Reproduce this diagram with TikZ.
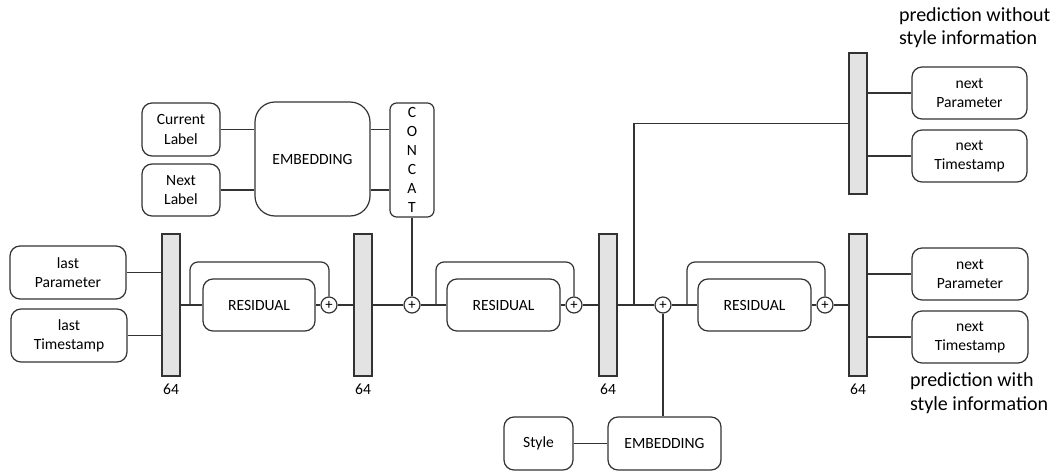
\documentclass[tikz,border=0pt]{standalone}
\usepackage{fontspec}
\setmainfont{Carlito}
\begin{document}
\begin{tikzpicture}[x=0.75pt,y=-0.75pt,
  line width=0.9pt, draw=black!80,
  box/.style={draw=black!80, line width=0.9pt, rounded corners=7.5pt, inner sep=0pt, align=center, font=\fontsize{11.7}{14.3}\selectfont},
  bigbox/.style={box, rounded corners=15pt},
  sz/.style 2 args={minimum width=#1, minimum height=#2},
  bar/.style={draw=black!80, line width=0.9pt, fill=black!11, inner sep=0pt, minimum width=13.5pt},
  plus/.style={draw=black!80, line width=0.9pt, circle, minimum size=12pt, inner sep=0pt, font=\fontsize{11}{11}\selectfont},
  lbl/.style={font=\fontsize{11.7}{13}\selectfont},
  pred/.style={align=left, anchor=west, font=\fontsize{15}{17.6}\selectfont}]
\useasboundingbox (0,0) rectangle (1051,471);

% input boxes
\node[box, sz={87pt}{39.75pt}] (lp) at (68,272.5) {last\\Parameter};
\node[box, sz={87pt}{39.75pt}] (lt) at (69,335.5) {last\\Timestamp};
\node[box, sz={58.5pt}{39.75pt}] (cl) at (181,129.5) {Current\\Label};
\node[box, sz={58.5pt}{39pt}] (nl) at (181,190) {Next\\Label};
\node[bigbox, sz={86.25pt}{85.5pt}] (emb1) at (312.5,159) {EMBEDDING};
\node[box, rounded corners=5pt, sz={33pt}{85.5pt}, font=\fontsize{11.7}{14.2}\selectfont] (cc) at (412,160) {C\\O\\N\\C\\A\\T};

% bars
\node[bar, minimum height=106.5pt] (b1) at (171,305) {};
\node[bar, minimum height=106.5pt] (b2) at (363,305) {};
\node[bar, minimum height=106.5pt] (b3) at (608,305) {};
\node[bar, minimum height=106.5pt] (b4) at (858,305) {};
\node[bar, minimum height=105.75pt] (b5) at (858,123.5) {};
\node[lbl] (l1) at (171,389) {64};
\node[lbl] (l2) at (363,389) {64};
\node[lbl] (l3) at (608,389) {64};
\node[lbl] (l4) at (858,389) {64};

% residual blocks
\node[box, sz={84pt}{39pt}] (r1) at (259,305) {RESIDUAL};
\node[box, sz={84.75pt}{39pt}] (r2) at (503.5,305) {RESIDUAL};
\node[box, sz={84.75pt}{39pt}] (r3) at (754.5,305) {RESIDUAL};

% plus nodes
\node[plus] (pA) at (329,305) {+};
\node[plus] (pB) at (412,305) {+};
\node[plus] (pC) at (574,305) {+};
\node[plus] (pD) at (663,305) {+};
\node[plus] (pE) at (825,305) {+};

% style branch
\node[box, sz={51.75pt}{39.75pt}] (st) at (538.5,443.5) {Style};
\node[box, sz={84.75pt}{39.75pt}] (emb2) at (664.5,443.5) {EMBEDDING};

% outputs
\node[box, sz={86.25pt}{39pt}] (np1) at (969.5,93) {next\\Parameter};
\node[box, sz={86.25pt}{39pt}] (nt1) at (969.5,156) {next\\Timestamp};
\node[box, sz={87pt}{39pt}] (np2) at (970,274) {next\\Parameter};
\node[box, sz={87pt}{39pt}] (nt2) at (970,337) {next\\Timestamp};

\node[pred] (t1) at (894,27.5) {prediction without\\style information};
\node[pred] (t2) at (905,393) {prediction with\\style information};

% coordinates
\coordinate (s1) at (190,305);
\coordinate (s2) at (436,305);
\coordinate (s3) at (687,305);
\coordinate (j) at (634,305);

% connectors
\draw (lp.east) -- (lp.east -| b1.west);
\draw (lt.east) -- (lt.east -| b1.west);
\draw (cl.east) -- (cl.east -| emb1.west);
\draw (nl.east) -- (nl.east -| emb1.west);
\draw (cl.east -| emb1.east) -- (cl.east -| cc.west);
\draw (nl.east -| emb1.east) -- (nl.east -| cc.west);

\draw (b1.east) -- (r1.west);
\draw[rounded corners=6pt] (s1) -- (190,262) -- (329,262) -- (pA.north);
\draw (r1.east) -- (pA.west);
\draw (pA.east) -- (b2.west);
\draw (b2.east) -- (pB.west);
\draw (cc.south) -- (pB.north);
\draw (pB.east) -- (r2.west);
\draw[rounded corners=6pt] (s2) -- (436,262) -- (574,262) -- (pC.north);
\draw (r2.east) -- (pC.west);
\draw (pC.east) -- (b3.west);
\draw (b3.east) -- (pD.west);
\draw (j) |- (b5.west);
\draw (pD.south) -- (pD.south |- emb2.north);
\draw (st.east) -- (emb2.west);
\draw (pD.east) -- (r3.west);
\draw[rounded corners=6pt] (s3) -- (687,262) -- (825,262) -- (pE.north);
\draw (r3.east) -- (pE.west);
\draw (pE.east) -- (b4.west);

\draw (np1.west -| b5.east) -- (np1.west);
\draw (nt1.west -| b5.east) -- (nt1.west);
\draw (np2.west -| b4.east) -- (np2.west);
\draw (nt2.west -| b4.east) -- (nt2.west);
\end{tikzpicture}
\end{document}
